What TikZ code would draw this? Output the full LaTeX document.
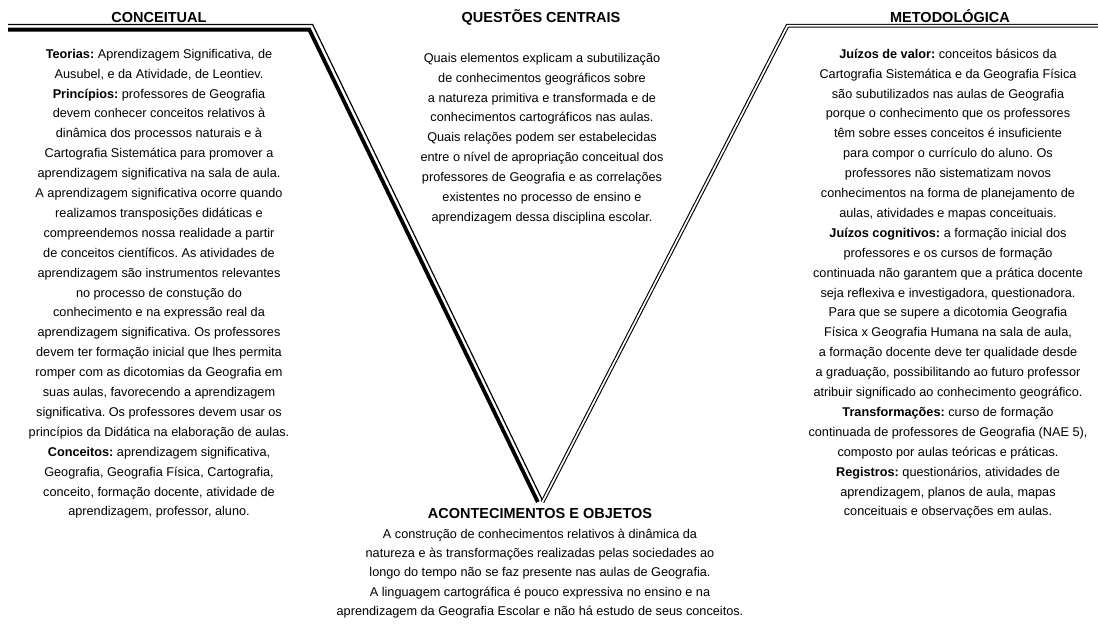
\documentclass[tikz,border=0pt]{standalone}
\usepackage{fontspec}
\setmainfont{Liberation Sans}
\frenchspacing
\begin{document}
\begin{tikzpicture}[x=1pt,y=-1pt,
  bodytext/.style={anchor=north,inner sep=0pt,align=center,font=\fontsize{12.7}{19.9}\selectfont\frenchspacing},
  headtext/.style={anchor=base,inner sep=0pt,font=\fontsize{14.5}{17}\selectfont\bfseries},
  thinrule/.style={line width=1.2pt,line join=miter},
  thickrule/.style={line width=3.8pt,line join=miter},
  doublerule/.style={line width=1.1pt,double distance=1.7pt,line join=miter}]
\useasboundingbox (0,0) rectangle (1098,625);
% V frame
\coordinate (lthinA) at (8,24.5);
\coordinate (lthinB) at (312.6,24.5);
\coordinate (lthinC) at (542.3,500);
\coordinate (lthickA) at (8,29.6);
\coordinate (lthickB) at (309.3,29.6);
\coordinate (lthickC) at (537.8,502);
\coordinate (rV) at (542.5,502);
\coordinate (rB) at (787.5,25.7);
\coordinate (rC) at (1098,25.7);
\draw[thinrule] (lthinA) -- (lthinB) -- (lthinC);
\draw[thickrule] (lthickA) -- (lthickB) -- (lthickC);
\draw[doublerule] (rV) -- (rB) -- (rC);
% headings
\node[headtext] (hconc) at (159,22.5) {CONCEITUAL};
\node[headtext] (hquest) at (541,22.5) {QUESTÕES CENTRAIS};
\node[headtext] (hmet) at (950,22.5) {METODOLÓGICA};
\node[headtext] (hacont) at (540,518) {ACONTECIMENTOS E OBJETOS};
% left column
\node[bodytext] (conc) at (159,44.1) {\strut\textbf{Teorias:} Aprendizagem Significativa, de\\
Ausubel, e da Atividade, de Leontiev.\\
\textbf{Princípios:} professores de Geografia\\
devem conhecer conceitos relativos à\\
dinâmica dos processos naturais e à\\
Cartografia Sistemática para promover a\\
aprendizagem significativa na sala de aula.\\
A aprendizagem significativa ocorre quando\\
realizamos transposições didáticas e\\
compreendemos nossa realidade a partir\\
de conceitos científicos. As atividades de\\
aprendizagem são instrumentos relevantes\\
no processo de constução do\\
conhecimento e na expressão real da\\
aprendizagem significativa. Os professores\\
devem ter formação inicial que lhes permita\\
romper com as dicotomias da Geografia em\\
suas aulas, favorecendo a aprendizagem\\
significativa. Os professores devem usar os\\
princípios da Didática na elaboração de aulas.\\
\textbf{Conceitos:} aprendizagem significativa,\\
Geografia, Geografia Física, Cartografia,\\
conceito, formação docente, atividade de\\
aprendizagem, professor, aluno.};
% center column
\node[bodytext] (quest) at (542,48.1) {\strut Quais elementos explicam a subutilização\\
de conhecimentos geográficos sobre\\
a natureza primitiva e transformada e de\\
conhecimentos cartográficos nas aulas.\\
Quais relações podem ser estabelecidas\\
entre o nível de apropriação conceitual dos\\
professores de Geografia e as correlações\\
existentes no processo de ensino e\\
aprendizagem dessa disciplina escolar.};
% right column
\node[bodytext] (met) at (948,44.1) {\strut\textbf{Juízos de valor:} conceitos básicos da\\
Cartografia Sistemática e da Geografia Física\\
são subutilizados nas aulas de Geografia\\
porque o conhecimento que os professores\\
têm sobre esses conceitos é insuficiente\\
para compor o currículo do aluno. Os\\
professores não sistematizam novos\\
conhecimentos na forma de planejamento de\\
aulas, atividades e mapas conceituais.\\
\textbf{Juízos cognitivos:} a formação inicial dos\\
professores e os cursos de formação\\
continuada não garantem que a prática docente\\
seja reflexiva e investigadora, questionadora.\\
Para que se supere a dicotomia Geografia\\
Física x Geografia Humana na sala de aula,\\
a formação docente deve ter qualidade desde\\
a graduação, possibilitando ao futuro professor\\
atribuir significado ao conhecimento geográfico.\\
\textbf{Transformações:} curso de formação\\
continuada de professores de Geografia (NAE 5),\\
composto por aulas teóricas e práticas.\\
\textbf{Registros:} questionários, atividades de\\
aprendizagem, planos de aula, mapas\\
conceituais e observações em aulas.};
% bottom
\node[bodytext,font=\fontsize{12.7}{19.4}\selectfont\frenchspacing] (acont) at (540,524.4) {\strut A construção de conhecimentos relativos à dinâmica da\\
natureza e às transformações realizadas pelas sociedades ao\\
longo do tempo não se faz presente nas aulas de Geografia.\\
A linguagem cartográfica é pouco expressiva no ensino e na\\
aprendizagem da Geografia Escolar e não há estudo de seus conceitos.};
\end{tikzpicture}
\end{document}
